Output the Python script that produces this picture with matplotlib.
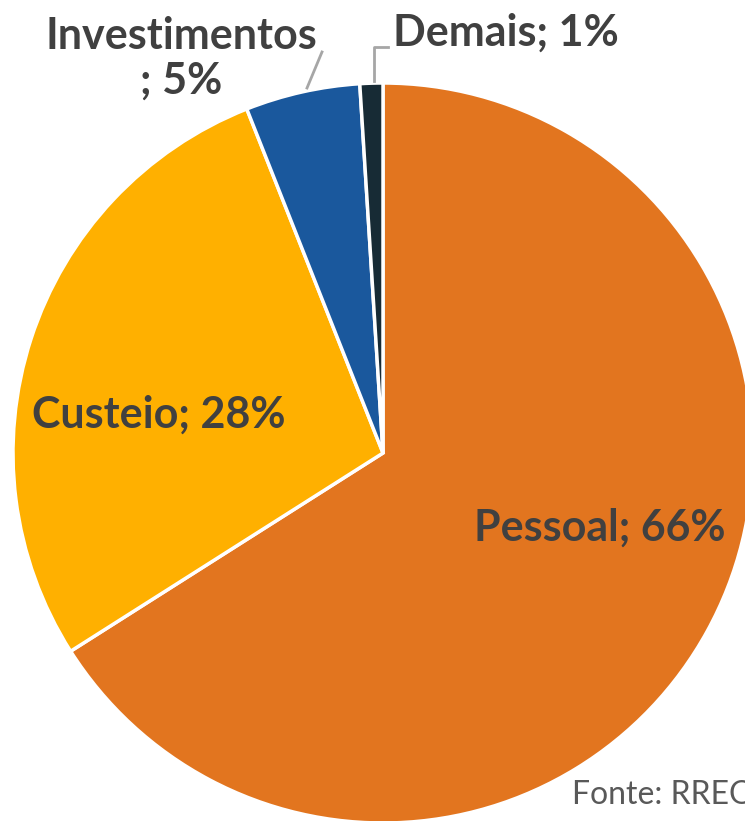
import matplotlib.pyplot as plt

categorias = ["Pessoal", "Custeio", "Investimentos", "Demais"]
valores = [66, 28, 5, 1]
cores = ["#E2751F", "#FFB000", "#1A589D", "#172B35"]

plt.rcParams['font.family'] = ['Lato', 'DejaVu Sans']

W, H = 745, 821
fig = plt.figure(figsize=(W / 100, H / 100), dpi=100)
ax = fig.add_axes([0, 0, 1, 1])
ax.set_aspect('equal')
ax.axis('off')

cx, cy, r = 383, H - 453, 370
ax.pie(valores, colors=cores, startangle=90, counterclock=False,
       center=(cx, cy), radius=r,
       wedgeprops=dict(edgecolor="white", linewidth=2.5))
ax.set_xlim(0, W)
ax.set_ylim(0, H)

txt = dict(fontsize=31, fontweight='bold', color="#404040", ha='center', va='center')
ax.text(600, H - 528, "{}; {}%".format(categorias[0], valores[0]), **txt)
ax.text(159, H - 415, "{}; {}%".format(categorias[1], valores[1]), **txt)
ax.text(181, H - 58, "{}\n; {}%".format(categorias[2], valores[2]), linespacing=1.15, **txt)
ax.text(506, H - 33, "{}; {}%".format(categorias[3], valores[3]), **txt)

# linhas de chamada
ax.plot([322, 307], [H - 52, H - 88], color="#A6A6A6", lw=2)
ax.plot([388, 374, 374], [H - 47, H - 47, H - 81], color="#A6A6A6", lw=2)

ax.text(572, H - 795, "Fonte: RREO", fontsize=23, color="#595959", ha='left', va='center')

fig.savefig("out.png", dpi=100)
